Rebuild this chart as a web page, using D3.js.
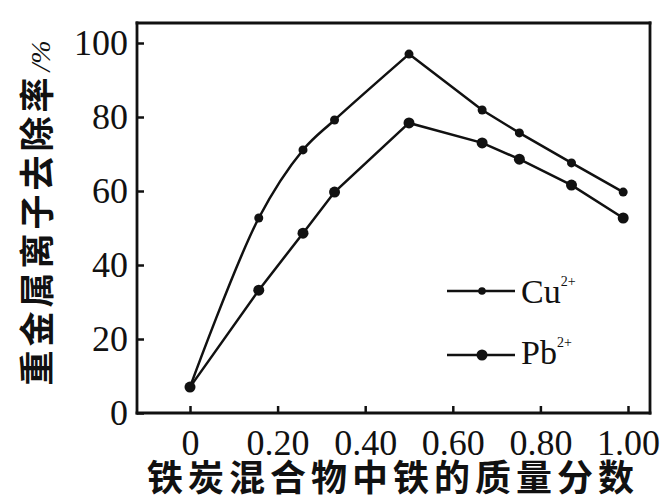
<!DOCTYPE html>
<meta charset="utf-8">
<style>
body { margin: 0; background: #fff; }
svg { display: block; }
.tick text { font-family: "Liberation Serif", "DejaVu Serif", serif; font-size: 36px; fill: #111; }
</style>
<body>
<div id="graph"></div>
<script src="https://d3js.org/d3.v7.min.js"></script>
<script>
// values
var fraction = [0, 0.157, 0.258, 0.33, 0.50, 0.667, 0.752, 0.871, 0.989];
var cuRemoval = [7.0, 52.7, 71.1, 79.2, 97.0, 81.9, 75.7, 67.6, 59.7];
var pbRemoval = [7.0, 33.2, 48.6, 59.7, 78.4, 73.0, 68.6, 61.6, 52.7];
var xTicks = [0, 0.2, 0.4, 0.6, 0.8, 1.0];
var yTicks = [0, 20, 40, 60, 80, 100];
var seriesNames = ["Cu", "Pb"];
var xTitle = "铁炭混合物中铁的质量分数";
var yTitle = "重金属离子去除率";

var width = 670, height = 502;
var frame = {x0: 137, y0: 23, x1: 650, y1: 413};

var svg = d3.select("#graph")
  .append("svg")
    .attr("width", width)
    .attr("height", height);

var x = d3.scaleLinear().domain([0, 1]).range([190, 628]);
var y = d3.scaleLinear().domain([0, 100]).range([frame.y1, 43]);

// frame, four sides
[[frame.x0, frame.y0, frame.x1, frame.y0],
 [frame.x1, frame.y0, frame.x1, frame.y1],
 [frame.x0, frame.y1, frame.x1, frame.y1],
 [frame.x0, frame.y0, frame.x0, frame.y1]].forEach(function(s) {
  svg.append("line")
    .attr("x1", s[0]).attr("y1", s[1])
    .attr("x2", s[2]).attr("y2", s[3])
    .attr("stroke", "#111")
    .attr("stroke-width", 2.8)
    .attr("stroke-linecap", "square");
});

var xAxis = svg.append("g")
  .attr("transform", "translate(0," + frame.y1 + ")")
  .call(d3.axisBottom(x)
    .tickValues(xTicks)
    .tickSize(-7)
    .tickSizeOuter(0)
    .tickPadding(16)
    .tickFormat(function(d) { return d === 0 ? "0" : d.toFixed(2); }));

var yAxis = svg.append("g")
  .attr("transform", "translate(" + frame.x0 + ",0)")
  .call(d3.axisLeft(y)
    .tickValues(yTicks)
    .tickSize(-7)
    .tickSizeOuter(0)
    .tickPadding(9));

[xAxis, yAxis].forEach(function(g) {
  g.select(".domain").remove();
  g.selectAll(".tick line")
    .attr("stroke", "#111")
    .attr("stroke-width", 2.5);
});

function rows(values) {
  return fraction.map(function(f, i) { return {x: f, y: values[i]}; });
}
var cu = rows(cuRemoval), pb = rows(pbRemoval);
var peak = 4; // index of the maximum, the curve bends sharply there

var straight = d3.line()
  .x(function(d) { return x(d.x); })
  .y(function(d) { return y(d.y); });

// Cu rises on a smooth curve, then falls in straight pieces
svg.append("path")
  .datum(cu.slice(0, peak + 1))
  .attr("fill", "none")
  .attr("stroke", "#111")
  .attr("stroke-width", 2.5)
  .attr("d", d3.line().curve(d3.curveCatmullRom.alpha(0.5))
    .x(function(d) { return x(d.x); })
    .y(function(d) { return y(d.y); }));

svg.append("path")
  .datum(cu.slice(peak))
  .attr("fill", "none")
  .attr("stroke", "#111")
  .attr("stroke-width", 2.5)
  .attr("d", straight);

svg.append("path")
  .datum(pb)
  .attr("fill", "none")
  .attr("stroke", "#111")
  .attr("stroke-width", 2.5)
  .attr("d", straight);

svg.selectAll(".cu-dot")
  .data(cu)
  .enter().append("circle")
  .attr("class", "cu-dot")
  .attr("cx", function(d) { return x(d.x); })
  .attr("cy", function(d) { return y(d.y); })
  .attr("r", 4.5)
  .attr("fill", "#111");

svg.selectAll(".pb-dot")
  .data(pb)
  .enter().append("circle")
  .attr("class", "pb-dot")
  .attr("cx", function(d) { return x(d.x); })
  .attr("cy", function(d) { return y(d.y); })
  .attr("r", 5.5)
  .attr("fill", "#111");

// legend
var legend = svg.append("g");
[{name: seriesNames[0], ly: 291, r: 3.8, base: 303},
 {name: seriesNames[1], ly: 355, r: 5.5, base: 364}].forEach(function(s) {
  legend.append("line")
    .attr("x1", 447).attr("x2", 515)
    .attr("y1", s.ly).attr("y2", s.ly)
    .attr("stroke", "#111").attr("stroke-width", 2.5);
  legend.append("circle")
    .attr("cx", 482).attr("cy", s.ly).attr("r", s.r).attr("fill", "#111");
  var t = legend.append("text")
    .attr("x", 521).attr("y", s.base)
    .attr("font-family", "Liberation Serif, serif")
    .attr("font-size", 34)
    .attr("fill", "#111");
  t.append("tspan").text(s.name);
  t.append("tspan")
    .attr("font-size", 14)
    .attr("dy", -17)
    .text("2+");
});

// axis titles
svg.append("text")
  .attr("x", 393).attr("y", 491)
  .attr("text-anchor", "middle")
  .attr("font-family", "Noto Sans CJK SC, sans-serif")
  .attr("font-weight", 700)
  .attr("font-size", 36)
  .attr("letter-spacing", 5)
  .attr("fill", "#111")
  .text(xTitle);

var yt = svg.append("text")
  .attr("transform", "translate(50,213) rotate(-90)")
  .attr("text-anchor", "middle")
  .attr("fill", "#111");
yt.append("tspan")
  .attr("font-family", "Noto Sans CJK SC, sans-serif")
  .attr("font-weight", 700)
  .attr("font-size", 35)
  .attr("letter-spacing", 4)
  .text(yTitle);
yt.append("tspan")
  .attr("font-family", "Liberation Serif, serif")
  .attr("font-style", "italic")
  .attr("font-size", 28)
  .attr("dx", 2)
  .text("/%");
</script>
</body>
